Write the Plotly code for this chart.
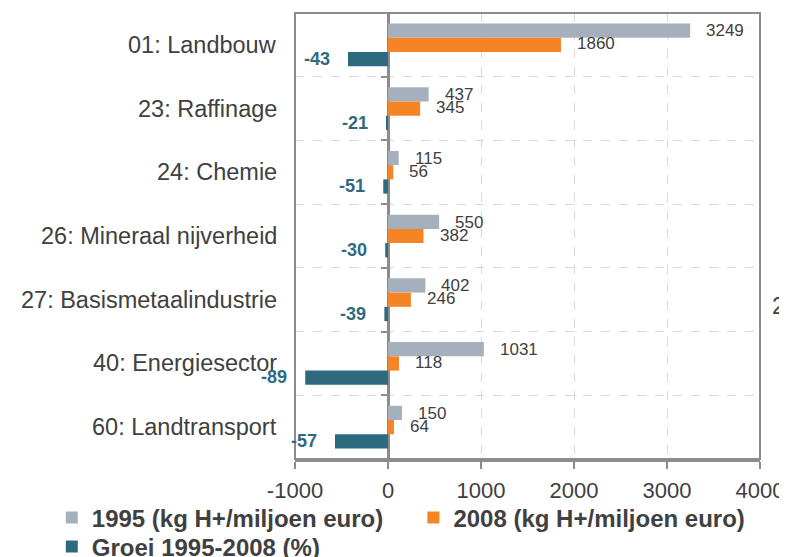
import plotly.graph_objects as go

# data
sectors = ["01: Landbouw", "23: Raffinage", "24: Chemie", "26: Mineraal nijverheid",
           "27: Basismetaalindustrie", "40: Energiesector", "60: Landtransport"]
v1995 = [3249, 437, 115, 550, 402, 1031, 150]
v2008 = [1860, 345, 56, 382, 246, 118, 64]
groei_pct = [-43, -21, -51, -30, -39, -89, -57]
# bar lengths as drawn in the source (mixed scaling in the original)
groei_bar = [-430, -21, -51, -30, -39, -890, -570]
x_ticks = [-1000, 0, 1000, 2000, 3000, 4000]
x_ticktext = ["-1000", "0", "1000", "2000", "3000", "4000"]

C_GRAY = "#a6b0bd"
C_ORANGE = "#f58426"
C_TEAL = "#2e6a7f"
C_TEXT = "#404040"
C_AXIS = "#8c8c8c"
C_GRID = "#d9d9d9"

FONT = "Liberation Sans, Arial, sans-serif"

fig = go.Figure()
fig.add_trace(go.Bar(y=sectors, x=v1995, orientation="h", name="1995 (kg H+/miljoen euro)",
                     marker=dict(color=C_GRAY, line=dict(width=0)), legend="legend"))
fig.add_trace(go.Bar(y=sectors, x=v2008, orientation="h", name="2008 (kg H+/miljoen euro)",
                     marker=dict(color=C_ORANGE, line=dict(width=0)), legend="legend2"))
fig.add_trace(go.Bar(y=sectors, x=groei_bar, orientation="h", name="Groei 1995-2008 (%)",
                     marker=dict(color=C_TEAL, line=dict(width=0)), legend="legend3"))

ann = []
for s, a, b, g, gb in zip(sectors, v1995, v2008, groei_pct, groei_bar):
    ann.append(dict(x=0, y=s, xref="paper", text=s, showarrow=False, xanchor="right",
                    xshift=-16, font=dict(family=FONT, size=23.5, color=C_TEXT)))
    ann.append(dict(x=a, y=s, text=str(a), showarrow=False, xanchor="left", xshift=14,
                    yshift=14, font=dict(family=FONT, size=17, color=C_TEXT)))
    ann.append(dict(x=b, y=s, text=str(b), showarrow=False, xanchor="left", xshift=14,
                    yshift=1, font=dict(family=FONT, size=17, color=C_TEXT)))
    ann.append(dict(x=gb, y=s, text="<b>%d</b>" % g, showarrow=False, xanchor="right",
                    xshift=-16, yshift=-14, font=dict(family=FONT, size=18, color=C_TEAL)))

# fragments of the neighbouring chart cut off at the right edge
for s, px in [(sectors[3], 1.0516), (sectors[4], 1.0215)]:
    ann.append(dict(x=px, y=s, xref="paper", text=s, showarrow=False, xanchor="left",
                    yshift=-6, font=dict(family=FONT, size=23.5, color=C_TEXT)))

shapes = [dict(type="rect", xref="paper", yref="paper", x0=0, x1=1, y0=0, y1=1,
               line=dict(color=C_AXIS, width=2), layer="above")]
for col, y0, y1 in [(C_GRAY, -0.1502, -0.1771), (C_TEAL, -0.2108, -0.2377)]:
    shapes.append(dict(type="rect", xref="paper", yref="paper", x0=1.0494, x1=1.0644,
                       y0=y0, y1=y1, fillcolor=col, line=dict(width=0)))

leg = dict(orientation="h", yanchor="middle", xanchor="left", itemwidth=30,
           font=dict(family=FONT, size=24, color=C_TEXT, weight="bold"),
           bgcolor="rgba(0,0,0,0)")

# page body has an 8px margin, so the figure is 8px smaller than the window
fig.update_layout(
    width=779, height=549,
    margin=dict(l=286.5, r=27, t=5, b=98, autoexpand=False),
    plot_bgcolor="white", paper_bgcolor="white",
    barmode="group", bargap=0.33, bargroupgap=0,
    showlegend=True,
    legend=dict(leg, x=-0.523, y=-0.1323),
    legend2=dict(leg, x=0.2546, y=-0.1323),
    legend3=dict(leg, x=-0.523, y=-0.197),
    annotations=ann,
    shapes=shapes,
    xaxis=dict(range=[-1000, 4000], tickvals=x_ticks, ticktext=x_ticktext,
               showgrid=True, gridcolor=C_GRID, griddash="dash", gridwidth=1,
               zeroline=True, zerolinecolor=C_AXIS, zerolinewidth=2.5,
               showline=True, linecolor=C_AXIS, linewidth=3,
               ticks="outside", ticklen=7, tickwidth=2, tickcolor=C_AXIS,
               ticklabelstandoff=3,
               tickfont=dict(family=FONT, size=22, color=C_TEXT)),
    yaxis=dict(type="category", categoryorder="array", categoryarray=sectors,
               autorange="reversed", anchor="free", position=0.2,
               showticklabels=False, showline=False,
               ticks="outside", tickson="boundaries", ticklen=7, tickwidth=2,
               tickcolor=C_AXIS,
               showgrid=True, gridcolor=C_GRID, griddash="dash", gridwidth=1),
)

fig.write_html("out.html")
